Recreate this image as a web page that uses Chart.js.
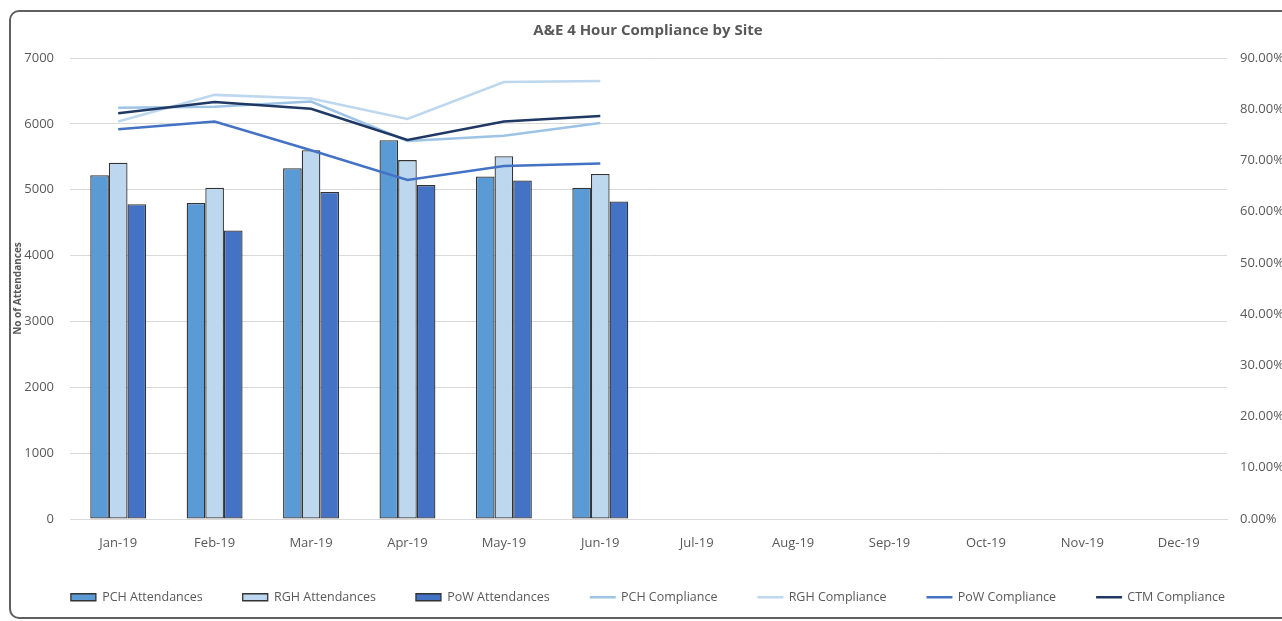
<!DOCTYPE html>
<html>
<head>
<meta charset="utf-8">
<title>A&amp;E 4 Hour Compliance by Site</title>
<script src="https://cdn.jsdelivr.net/npm/chart.js@4/dist/chart.umd.min.js"></script>
<style>
    html, body { margin: 0; padding: 0; background: #fff; overflow: hidden; }
    #frame {
        position: absolute; left: 9px; top: 10px;
        width: 1290px; height: 605px;
        border: 2px solid #5f5f5f; border-radius: 10px;
    }
    #wrap { position: absolute; left: 0; top: 0; width: 1296px; height: 621px; }
</style>
</head>
<body>
<div id="frame"></div>
<div id="wrap"><canvas id="chartCanvas" width="1296" height="621"></canvas></div>
<script>
// =========================
// Data
// =========================
const months = ["Jan-19", "Feb-19", "Mar-19", "Apr-19", "May-19", "Jun-19",
                "Jul-19", "Aug-19", "Sep-19", "Oct-19", "Nov-19", "Dec-19"];

const pchAttendances = [5220, 4800, 5325, 5750, 5200, 5030, null, null, null, null, null, null];
const rghAttendances = [5410, 5030, 5600, 5450, 5510, 5240, null, null, null, null, null, null];
const powAttendances = [4780, 4380, 4965, 5070, 5140, 4820, null, null, null, null, null, null];

// compliance in percent
const pchCompliance = [80.3, 80.5, 81.5, 73.8, 74.8, 77.3, null, null, null, null, null, null];
const rghCompliance = [77.6, 82.8, 82.1, 78.1, 85.3, 85.5, null, null, null, null, null, null];
const powCompliance = [76.1, 77.6, 72.0, 66.2, 68.9, 69.4, null, null, null, null, null, null];
const ctmCompliance = [79.2, 81.4, 80.1, 74.0, 77.6, 78.7, null, null, null, null, null, null];

const attendanceTicks = [0, 1000, 2000, 3000, 4000, 5000, 6000, 7000];
const complianceTicks = [0, 10, 20, 30, 40, 50, 60, 70, 80, 90];

// =========================
// Styles
// =========================
const FONT = "'Open Sans', sans-serif";
const TEXT = "#595959";
const GRID = "#d9d9d9";
const EDGE = "#333333";

Chart.defaults.font.family = FONT;
Chart.defaults.color = TEXT;

function barSet(label, data, color) {
    return {
        type: "bar", label, data,
        backgroundColor: color, borderColor: EDGE, borderWidth: 1.3,
        borderSkipped: false,
        yAxisID: "y", order: 2,
        categoryPercentage: 0.58, barPercentage: 1
    };
}

function lineSet(label, data, color, order) {
    return {
        type: "line", label, data,
        borderColor: color, backgroundColor: color, borderWidth: 2.5,
        pointRadius: 0, tension: 0, fill: false,
        yAxisID: "y1", order
    };
}

// legend: draw a short line instead of a box for line series
const legendLines = {
    id: "legendLines",
    afterDraw(chart) {
        const legend = chart.legend;
        const ctx = chart.ctx;
        legend.legendItems.forEach((item, i) => {
            const ds = chart.data.datasets[item.datasetIndex];
            if (ds.type !== "line") return;
            const box = legend.legendHitBoxes[i];
            const y = box.top + box.height / 2;
            ctx.save();
            ctx.strokeStyle = ds.borderColor;
            ctx.lineWidth = 2.5;
            ctx.beginPath();
            ctx.moveTo(box.left, y);
            ctx.lineTo(box.left + 26, y);
            ctx.stroke();
            ctx.restore();
        });
    }
};

// =========================
// Chart
// =========================
const ctx = document.getElementById("chartCanvas").getContext("2d");

new Chart(ctx, {
    data: {
        labels: months,
        datasets: [
            barSet("PCH Attendances", pchAttendances, "#5b9bd5"),
            barSet("RGH Attendances", rghAttendances, "#bdd7ee"),
            barSet("PoW Attendances", powAttendances, "#4472c4"),
            lineSet("PCH Compliance", pchCompliance, "#9dc3e6", 1),
            lineSet("RGH Compliance", rghCompliance, "#bdd7ee", 1),
            lineSet("PoW Compliance", powCompliance, "#4472c4", 1),
            lineSet("CTM Compliance", ctmCompliance, "#1f3864", 0)
        ]
    },
    options: {
        responsive: false,
        animation: false,
        layout: { padding: { top: 0, left: 0, right: 0, bottom: 7.5 } },
        plugins: {
            title: {
                display: true,
                text: "A&E 4 Hour Compliance by Site",
                color: TEXT,
                font: { size: 15, weight: "bold" },
                padding: { top: 22, bottom: 18 }
            },
            legend: {
                position: "bottom",
                labels: {
                    boxWidth: 25, boxHeight: 7, padding: 40,
                    font: { size: 12.5 }, color: TEXT,
                    generateLabels(chart) {
                        const items = Chart.defaults.plugins.legend.labels.generateLabels(chart);
                        items.sort((a, b) => a.datasetIndex - b.datasetIndex);
                        items.forEach(it => {
                            if (chart.data.datasets[it.datasetIndex].type === "line") {
                                it.fillStyle = "rgba(0,0,0,0)";
                                it.strokeStyle = "rgba(0,0,0,0)";
                                it.lineWidth = 0;
                            }
                        });
                        return items;
                    }
                }
            },
            tooltip: { enabled: false }
        },
        scales: {
            x: {
                grid: { display: false, drawTicks: false },
                border: { color: GRID },
                ticks: { padding: 16, font: { size: 13 }, color: TEXT },
                afterFit(scale) { scale.height = 32; }
            },
            y: {
                position: "left",
                min: 0, max: 7000,
                afterBuildTicks(scale) { scale.ticks = attendanceTicks.map(v => ({ value: v })); },
                grid: { color: GRID, drawTicks: false },
                border: { display: false },
                ticks: {
                    padding: 16, font: { size: 13 }, color: TEXT,
                    callback: v => String(v)
                },
                title: {
                    display: true, text: "No of Attendances",
                    font: { size: 10, weight: "bold" }, color: TEXT,
                    padding: { top: 12, bottom: 0 }
                },
                afterFit(scale) { scale.width = 70; }
            },
            y1: {
                position: "right",
                min: 0, max: 90,
                afterBuildTicks(scale) { scale.ticks = complianceTicks.map(v => ({ value: v })); },
                grid: { display: false, drawTicks: false },
                border: { display: false },
                ticks: {
                    padding: 13, font: { size: 13 }, color: TEXT,
                    callback: v => v.toFixed(2) + "%"
                },
                afterFit(scale) { scale.width = 69; }
            }
        }
    },
    plugins: [legendLines]
});
</script>
</body>
</html>
